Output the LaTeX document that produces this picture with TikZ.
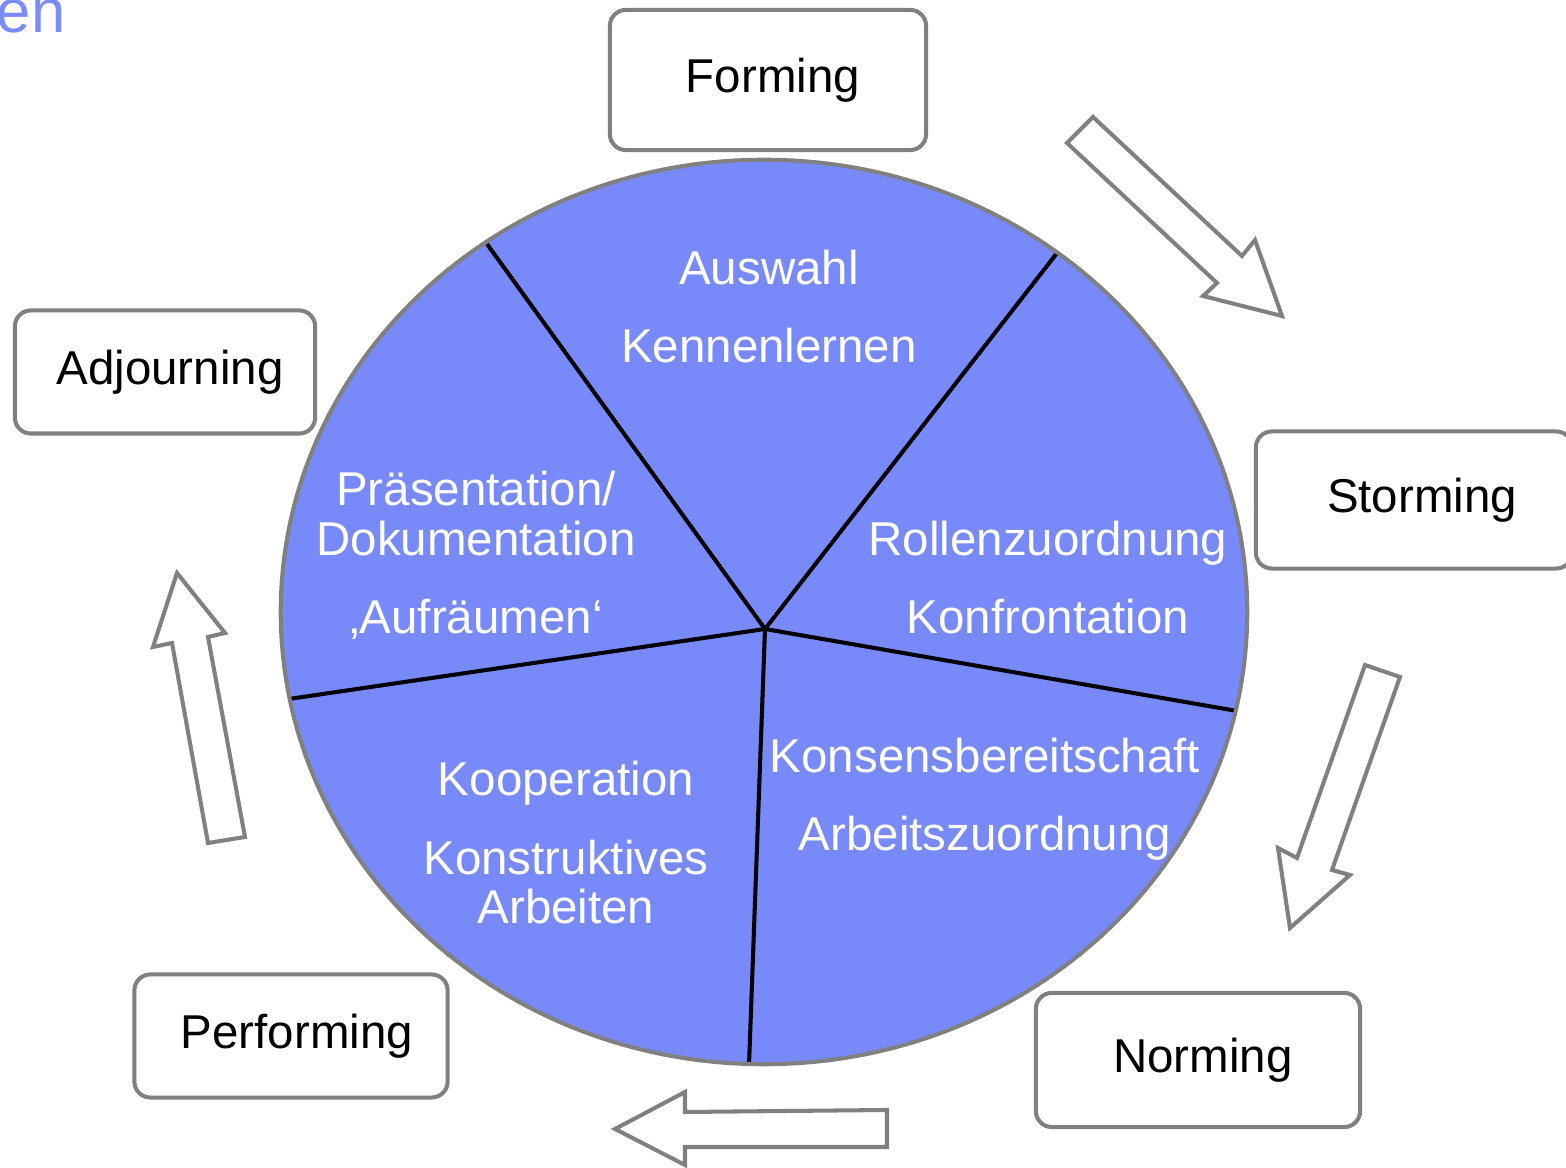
\documentclass[tikz,border=0pt]{standalone}
\usepackage{fontspec}
\setmainfont{Liberation Sans}
\definecolor{piefill}{RGB}{120,137,250}
\definecolor{titleblue}{RGB}{122,140,255}
\definecolor{rimgray}{RGB}{128,128,128}
\tikzset{
  phase/.style={draw=rimgray, line width=1.15pt, rounded corners=4.5pt, fill=white,
    font=\fontsize{13.5}{14.2}\selectfont, inner sep=0pt},
  inside/.style={text=white, align=center, font=\fontsize{13.5}{14.2}\selectfont},
  blockarrow/.style={draw=rimgray, line width=1.15pt, fill=white, line join=miter}
}
\begin{document}
\begin{tikzpicture}[x=0.01cm,y=-0.01cm]
      \useasboundingbox (0,0) rectangle (1566,1168);
      \node[anchor=base east, inner sep=0pt, text=titleblue,
        font=\fontsize{17.5}{20}\selectfont] (title) at (66,33) {en};
      \fill[piefill] (764,612) ellipse [x radius=4.83cm, y radius=4.52cm];
      \coordinate (mid) at (765,629);
      \coordinate (r1) at (487,244);
      \coordinate (r2) at (1057,253);
      \coordinate (r3) at (1237,711);
      \coordinate (r4) at (749,1065);
      \coordinate (r5) at (289,699);
      \begin{scope}[line width=1.15pt]
        \draw (mid) -- (r1);
        \draw (mid) -- (r2);
        \draw (mid) -- (r3);
        \draw (mid) -- (r4);
        \draw (mid) -- (r5);
      \end{scope}
      \draw[rimgray, line width=1.15pt] (764,612) ellipse [x radius=4.83cm, y radius=4.52cm];
      \node[inside] (forminner) at (769,307) {Auswahl\\[8pt]Kennenlernen};
      \node[inside] (storminner) at (1048,578) {Rollenzuordnung\\[8pt]Konfrontation};
      \node[inside] (norminner) at (985,799) {Konsensbereitschaft\\[8pt]Arbeitszuordnung};
      \node[inside] (perfinner) at (566,843) {Kooperation\\[8pt]Konstruktives\\Arbeiten};
      \node[inside] (adjinner) at (476,555) {Präsentation/\\Dokumentation\\[8pt]‚Aufräumen‘};
      \node[phase, minimum width=3.16cm, minimum height=1.40cm] (forming) at (768,80)
        {\hspace*{0.1cm}Forming};
      \node[phase, minimum width=3.16cm, minimum height=1.37cm] (storming) at (1414,500)
        {\hspace*{0.16cm}Storming};
      \node[phase, minimum width=3.24cm, minimum height=1.34cm] (norming) at (1198,1060)
        {\hspace*{0.1cm}Norming};
      \node[phase, minimum width=3.13cm, minimum height=1.23cm] (performing) at (291,1036)
        {\hspace*{0.12cm}Performing};
      \node[phase, minimum width=3.00cm, minimum height=1.23cm] (adjourning) at (165,372)
        {\hspace*{0.1cm}Adjourning};
      \draw[blockarrow] (1093,117) -- (1242,256) -- (1255,240) -- (1282,316)
        -- (1203,296) -- (1217,283) -- (1067,143) -- cycle;
      \draw[blockarrow] (1365,665) -- (1400,677) -- (1332,870) -- (1350,875)
        -- (1290,928) -- (1278,848) -- (1297,858) -- cycle;
      \draw[blockarrow] (887,1110) -- (887,1147) -- (685,1147) -- (685,1165)
        -- (615,1129) -- (685,1092) -- (685,1112) -- cycle;
      \draw[blockarrow] (208,843) -- (245,837) -- (208,637) -- (225,633)
        -- (177,573) -- (153,647) -- (172,643) -- cycle;
\end{tikzpicture}
\end{document}
